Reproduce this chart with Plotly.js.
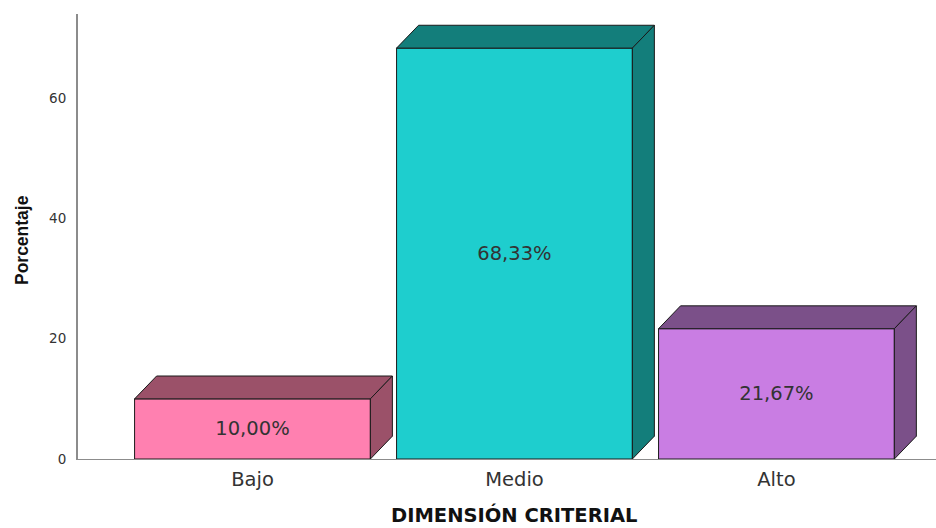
<!DOCTYPE html>
<html>
<head>
<meta charset="utf-8">
<script src="https://cdn.plot.ly/plotly-3.0.1.min.js"></script>
<style>html,body{margin:0;padding:0;background:#fff;}#chart{width:936px;height:528px;}</style>
</head>
<body>
<div id="chart"></div>
<script>
var categories = ["Bajo", "Medio", "Alto"];
var values = [10.00, 68.33, 21.67];
var valueLabels = ["10,00%", "68,33%", "21,67%"];
var frontColors = ["#FF80B0", "#1ECECE", "#C97DE3"];
var sideColors = ["#9B5169", "#137E7B", "#7B5089"];
var xTitle = "DIMENSIÓN CRITERIAL";
var yTitle = "Porcentaje";

var xPos = categories.map(function(c, i){ return i; });
var barWidth = 0.9;
var depthX = 0.084;   // depth offset (x units)
var depthY = 3.8;     // depth offset (y units)

var shapes = [];
xPos.forEach(function(x, i){
  var x0 = x - barWidth/2, x1 = x + barWidth/2, v = values[i];
  shapes.push({type:'path', xref:'x', yref:'y', layer:'above',
    path:'M'+x0+','+v+' L'+(x0+depthX)+','+(v+depthY)+' L'+(x1+depthX)+','+(v+depthY)+' L'+x1+','+v+' Z',
    fillcolor:sideColors[i], line:{color:'#1a1a1a', width:1}});
  shapes.push({type:'path', xref:'x', yref:'y', layer:'above',
    path:'M'+x1+',0 L'+(x1+depthX)+','+depthY+' L'+(x1+depthX)+','+(v+depthY)+' L'+x1+','+v+' Z',
    fillcolor:sideColors[i], line:{color:'#1a1a1a', width:1}});
});

var trace = {
  type:'bar', x:xPos, y:values, width:barWidth,
  text:valueLabels, textposition:'inside', insidetextanchor:'middle',
  textfont:{family:'DejaVu Sans, sans-serif', size:19.5, color:'#333333'},
  marker:{color:frontColors, line:{color:'#1a1a1a', width:1}},
  hoverinfo:'skip'
};

var layout = {
  width:936, height:528,
  margin:{l:78, r:0, t:14, b:69},
  paper_bgcolor:'#ffffff', plot_bgcolor:'#ffffff',
  showlegend:false,
  xaxis:{
    range:[-0.666, 2.609], tickmode:'array', tickvals:xPos, ticktext:categories,
    showgrid:false, zeroline:false, showline:true, linecolor:'#8c8c8c', linewidth:1,
    ticks:'', ticklabelstandoff:3,
    tickfont:{family:'DejaVu Sans, sans-serif', size:19.5, color:'#333333'},
    automargin:false, fixedrange:true
  },
  yaxis:{
    range:[0, 74], tickvals:[0,20,40,60], ticktext:['0','20','40','60'],
    showgrid:false, zeroline:false, showline:true, linecolor:'#8c8c8c', linewidth:2,
    ticks:'', ticklabelstandoff:7,
    tickfont:{family:'DejaVu Sans, sans-serif', size:13.5, color:'#333333'},
    automargin:false, fixedrange:true
  },
  annotations:[
    {text:xTitle, xref:'paper', yref:'paper', x:0.5076, y:-0.125, xanchor:'center', yanchor:'middle',
     showarrow:false, font:{family:'DejaVu Sans, sans-serif', size:19.5, color:'#111111', weight:'bold'}},
    {text:yTitle, xref:'paper', yref:'paper', x:-0.0653, y:0.492, xanchor:'center', yanchor:'middle',
     textangle:-90, showarrow:false, font:{family:'Liberation Sans, Arial, sans-serif', size:17.5, color:'#111111', weight:'bold'}}
  ],
  shapes:shapes,
  uniformtext:{mode:false}
};

Plotly.newPlot('chart', [trace], layout, {displayModeBar:false, staticPlot:true});
</script>
</body>
</html>
